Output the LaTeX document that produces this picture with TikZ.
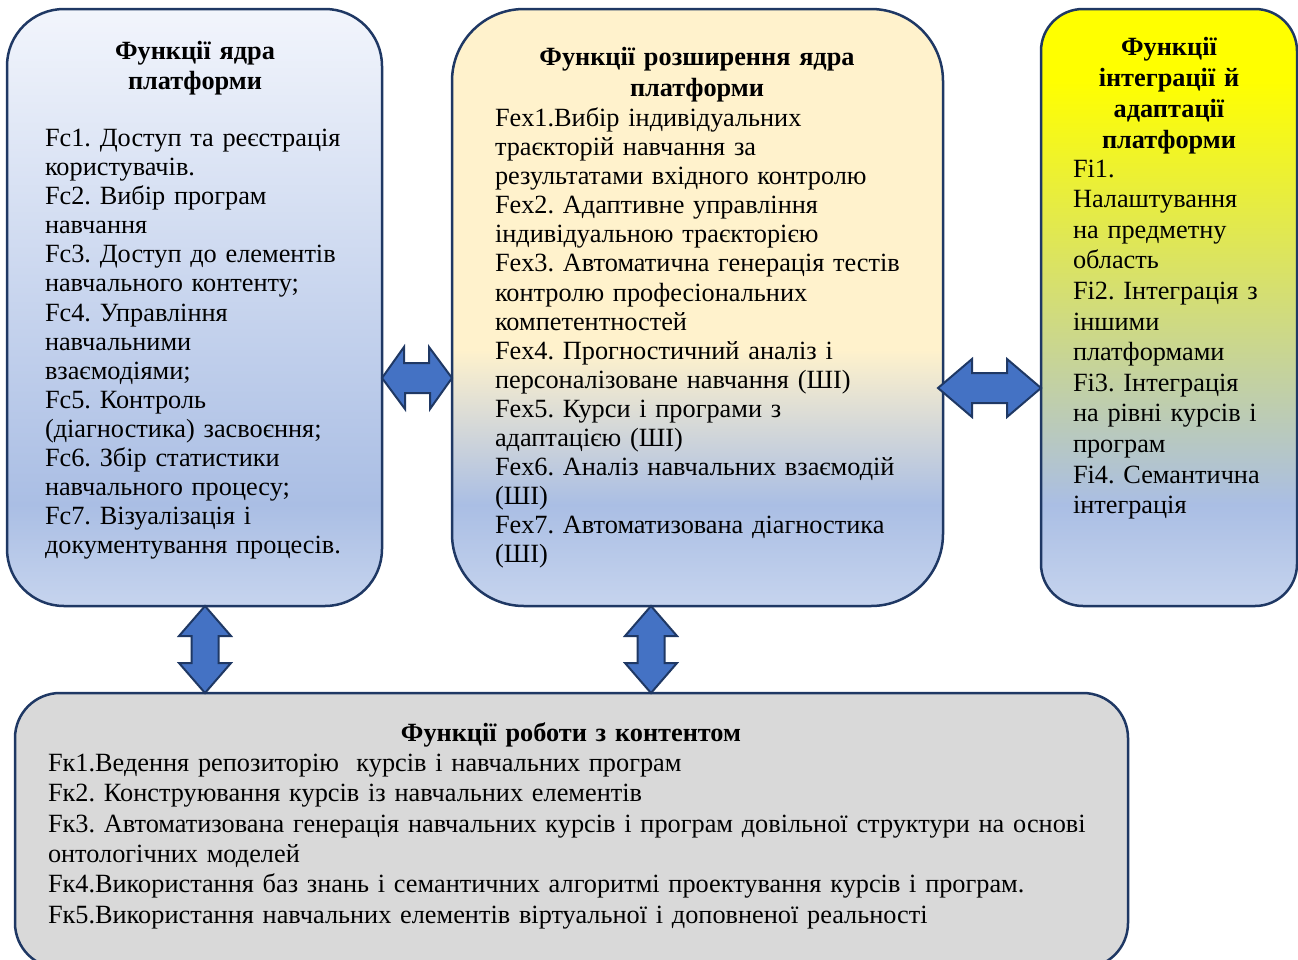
\documentclass[tikz,border=0pt]{standalone}
\usepackage{fontspec}
\setmainfont{Liberation Serif}
\usetikzlibrary{calc}
\definecolor{navy}{HTML}{1F3864}
\definecolor{arrblue}{HTML}{4472C4}
\definecolor{bltop}{HTML}{F2F5FC}
\definecolor{blmid}{HTML}{AABEE4}
\definecolor{blbot}{HTML}{C6D4EE}
\definecolor{cream}{HTML}{FFF2CC}
\definecolor{yel}{HTML}{FFFF00}
\definecolor{greyfill}{HTML}{D9D9D9}
\pgfdeclareverticalshading{gblue}{100bp}{color(0bp)=(blbot); color(25bp)=(blbot); color(33.5bp)=(blmid); color(75bp)=(bltop); color(100bp)=(bltop)}
\pgfdeclareverticalshading{gcream}{100bp}{color(0bp)=(blbot); color(25bp)=(blbot); color(33.5bp)=(blmid); color(46.5bp)=(cream); color(75bp)=(cream); color(100bp)=(cream)}
\pgfdeclareverticalshading{gyel}{100bp}{color(0bp)=(blbot); color(25bp)=(blbot); color(33.5bp)=(blmid); color(69bp)=(yel); color(75bp)=(yel); color(100bp)=(yel)}
\tikzset{
  box/.style={draw=navy, line width=2.5pt, inner sep=0pt, outer sep=0pt},
  txt/.style={inner sep=0pt, outer sep=0pt, align=left, anchor=north west},
  hdr/.style={inner sep=0pt, outer sep=0pt, align=center, anchor=north},
  barrow/.style={draw=navy, fill=arrblue, line width=2pt, line join=miter},
}
\newcommand{\fs}[1]{\fontsize{26.3}{#1}\selectfont\frenchspacing}
\begin{document}
\begin{tikzpicture}[x=1pt,y=-1pt]
\useasboundingbox (0,0) rectangle (1298,959);
% boxes
\node[box, shade, shading=gblue, rounded corners=57pt, minimum width=375pt, minimum height=597pt] (b1) at (194.5,307.5) {};
\node[box, shade, shading=gcream, rounded corners=72pt, minimum width=491pt, minimum height=597pt] (b2) at (697.5,307.5) {};
\node[box, shade, shading=gyel, rounded corners=42pt, minimum width=256pt, minimum height=597pt] (b3) at (1169,307.5) {};
\node[box, fill=greyfill, rounded corners=45pt, minimum width=1113pt, minimum height=275pt] (b4) at (571.5,830.5) {};
% texts box 1
\node[hdr, text width=350pt, font=\fs{29.1}\bfseries] (h1) at (195,39.6) {\strut Функції ядра\\платформи};
\node[txt, text width=335pt, font=\fs{29.1}] (t1) at (45,126.1) {\strut Fc1. Доступ та реєстрація\\
користувачів.\\
Fc2. Вибір програм\\
навчання\\
Fc3. Доступ до елементів\\
навчального контенту;\\
Fc4. Управління\\
навчальними\\
взаємодіями;\\
Fc5. Контроль\\
(діагностика) засвоєння;\\
Fc6. Збір статистики\\
навчального процесу;\\
Fc7. Візуалізація і\\
документування процесів.};
% texts box 2
\node[hdr, text width=460pt, font=\fs{30.5}\bfseries] (h2) at (697,44.6) {\strut Функції розширення ядра\\платформи};
\node[txt, text width=440pt, font=\fs{29.1}] (t2) at (495,106.1) {\strut Fex1.Вибір індивідуальних\\
траєкторій навчання за\\
результатами вхідного контролю\\
Fex2. Адаптивне управління\\
індивідуальною траєкторією\\
Fex3. Автоматична генерація тестів\\
контролю професіональних\\
компетентностей\\
Fex4. Прогностичний аналіз і\\
персоналізоване навчання (ШІ)\\
Fex5. Курси і програми з\\
адаптацією (ШІ)\\
Fex6. Аналіз навчальних взаємодій\\
(ШІ)\\
Fex7. Автоматизована діагностика\\
(ШІ)};
% texts box 3
\node[hdr, text width=245pt, font=\fs{31}\bfseries] (h3) at (1169,33.3) {\strut Функції\\інтеграції й\\адаптації\\платформи};
\node[txt, text width=222pt, font=\fs{30.6}] (t3) at (1073,155.6) {\strut Fi1.\\
Налаштування\\
на предметну\\
область\\
Fi2. Інтеграція з\\
іншими\\
платформами\\
Fi3. Інтеграція\\
на рівні курсів і\\
програм\\
Fi4. Семантична\\
інтеграція};
% texts box 4
\node[hdr, text width=800pt, font=\fs{30.3}\bfseries] (h4) at (571,720.3) {\strut Функції роботи з контентом};
\node[txt, text width=1078pt, font=\fs{30.3}] (t4) at (48,750.3) {\strut Fк1.Ведення репозиторію \ курсів і навчальних програм\\
Fк2. Конструювання курсів із навчальних елементів\\
Fк3. Автоматизована генерація навчальних курсів і програм довільної структури на основі\\
онтологічних моделей\\
Fк4.Використання баз знань і семантичних алгоритмі проектування курсів і програм.\\
Fк5.Використання навчальних елементів віртуальної і доповненої реальності};
% block arrows
\draw[barrow] (b1.east |- 0,378) -- ++(22,-31) -- ++(0,16) -- ++(25,0) -- ++(0,-16)
  -- (b2.west |- 0,378) -- ++(-22,31) -- ++(0,-16) -- ++(-25,0) -- ++(0,16) -- cycle;
\draw[barrow] ($(b2.east |- 0,388)+(-5,0)$) -- ++(34,-29) -- ++(0,14) -- ++(35,0) -- ++(0,-14)
  -- (b3.west |- 0,388) -- ++(-34,29) -- ++(0,-14) -- ++(-35,0) -- ++(0,14) -- cycle;
\draw[barrow] (b1.south -| 205,0) -- ++(26,30) -- ++(-12.5,0) -- ++(0,27) -- ++(12.5,0)
  -- (b4.north -| 205,0) -- ++(-26,-30) -- ++(12.5,0) -- ++(0,-27) -- ++(-12.5,0) -- cycle;
\draw[barrow] (b2.south -| 651,0) -- ++(26,30) -- ++(-12.5,0) -- ++(0,27) -- ++(12.5,0)
  -- (b4.north -| 651,0) -- ++(-26,-30) -- ++(12.5,0) -- ++(0,-27) -- ++(-12.5,0) -- cycle;
\end{tikzpicture}
\end{document}
